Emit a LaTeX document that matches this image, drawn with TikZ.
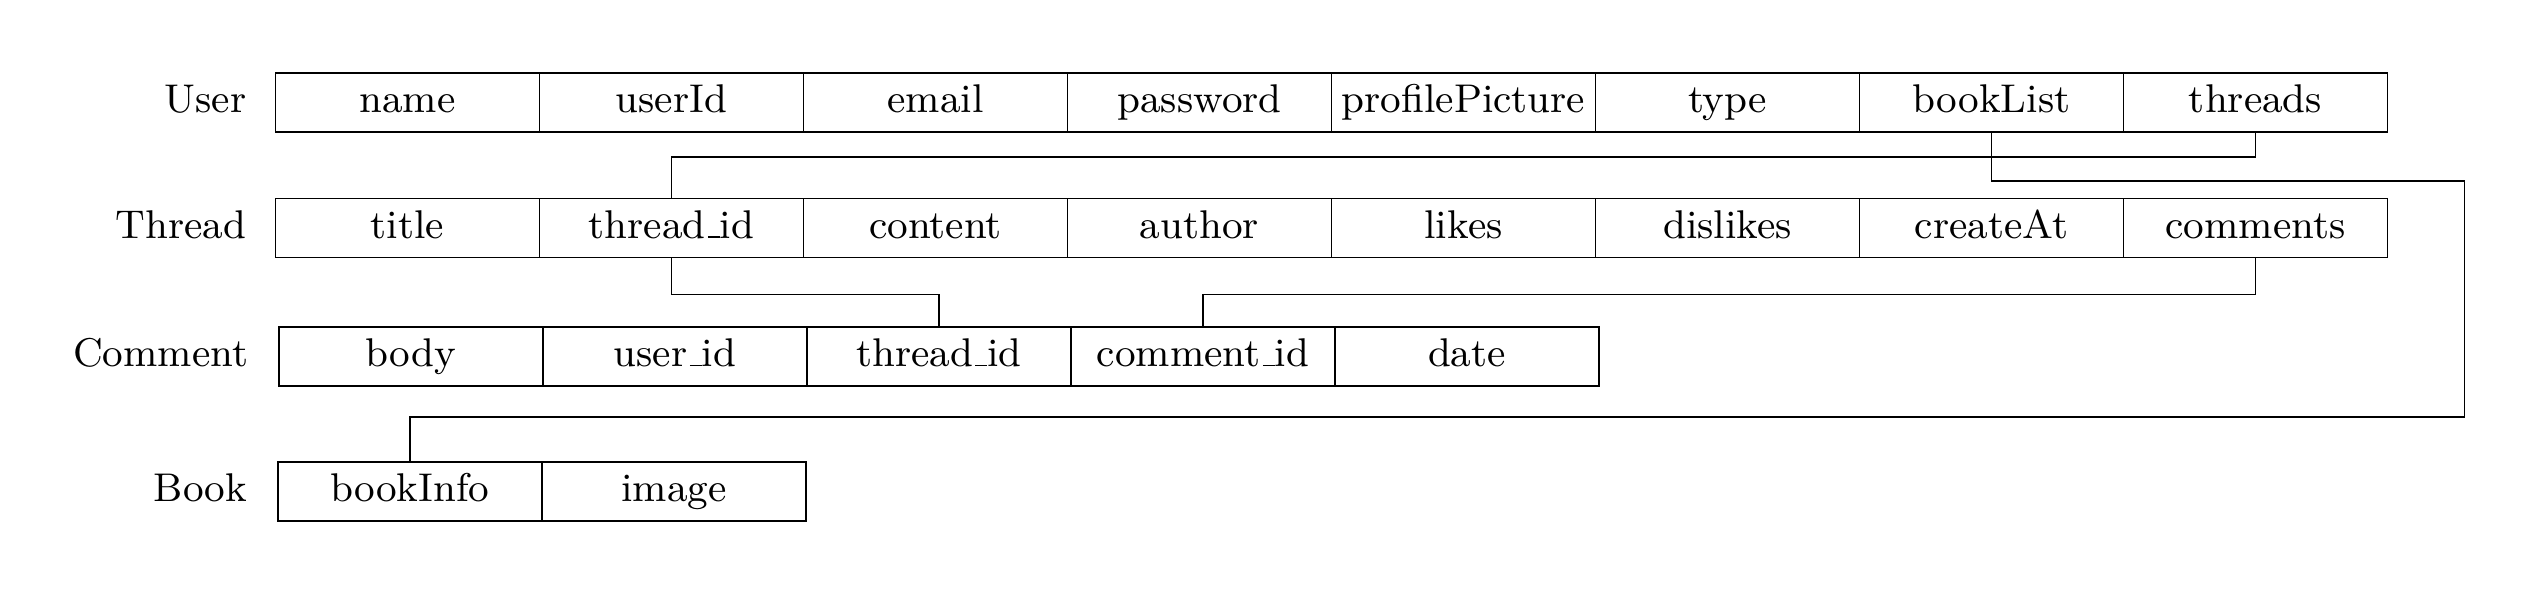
\documentclass[tikz,border=0pt]{standalone}
\newcommand\usc{\leavevmode\kern.06em\vbox{\hrule width.3em}}
\begin{document}
\begin{tikzpicture}[x=0.232pt,y=-0.232pt,
  txt/.style={font=\fontsize{9.3}{11}\selectfont, text height=6.45pt, text depth=1.8pt, inner sep=0pt},
  cell/.style={txt, draw, line width=0.45pt, minimum width=61.25pt, minimum height=13.7pt, anchor=center},
  lbl/.style={txt, anchor=east},
  conn/.style={draw, line width=0.4pt}]
\useasboundingbox (0,0) rectangle (2524,595);
% User
\node[lbl] (lu) at (247,102.2) {User};
\foreach [count=\i from 0] \t in {name,userId,email,password,profilePicture,type,bookList,threads}
  \node[cell] (u\i) at (407.5+264*\i,102.2) {\t};
% Thread
\node[lbl] (lt) at (247,228) {Thread};
\foreach [count=\i from 0] \t in {title,{thread\usc id},content,author,likes,dislikes,createAt,comments}
  \node[cell] (t\i) at (407.5+264*\i,228) {\t};
% Comment
\node[lbl] (lc) at (249,356.3) {Comment};
\foreach [count=\i from 0] \t in {body,{user\usc id},{thread\usc id},{comment\usc id},date}
  \node[cell] (c\i) at (411+264*\i,356.3) {\t};
% Book
\node[lbl] (lb) at (248,491.7) {Book};
\foreach [count=\i from 0] \t in {bookInfo,image}
  \node[cell] (b\i) at (410+264*\i,491.7) {\t};
% connectors
\draw[conn] (u7.south) -- ++(0,24.3) -| (t1.north);
\draw[conn] (u6.south) -- ++(0,48.3) -- ++(473,0) -- ++(0,236) -| (b0.north);
\draw[conn] (t1.south) -- ++(0,36) -| (c2.north);
\draw[conn] (t7.south) -- ++(0,36) -| (c3.north);
\end{tikzpicture}
\end{document}
